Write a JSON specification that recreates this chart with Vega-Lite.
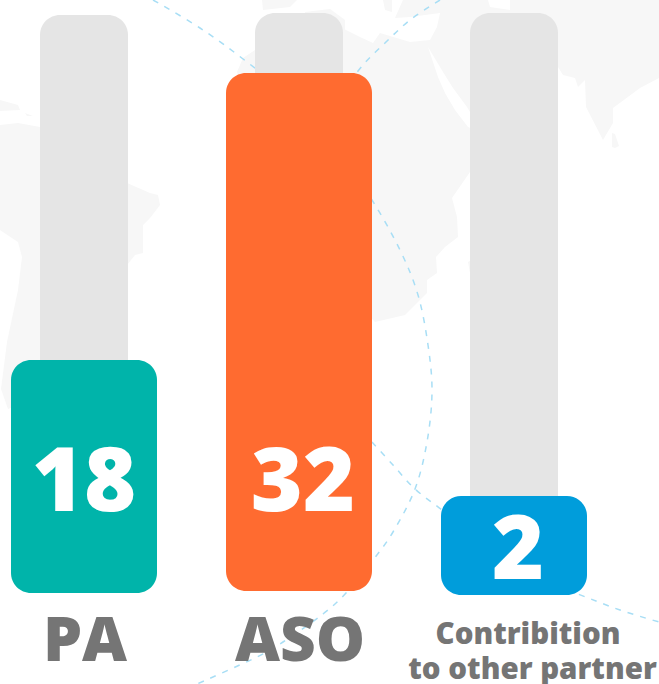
{"$schema":"https://vega.github.io/schema/vega-lite/v6.json","width":659,"height":684,"padding":0,"autosize":{"type":"none"},"background":"#ffffff","view":{"stroke":null},
"datasets":{
"bars":[
{"category":"PA","value":18,"track_top":15,"bar_top":360,"bar_base":593,"value_base":511,"label_base":661},
{"category":"ASO","value":32,"track_top":13,"bar_top":73,"bar_base":591,"value_base":511,"label_base":661},
{"category":"Contribution","value":2,"track_top":13,"bar_top":496,"bar_base":595,"value_base":579,"label_base":644}
],
"arcs":[
{"arc":"A","seq":1,"x":153,"y":0},{"arc":"A","seq":2,"x":200,"y":28},{"arc":"A","seq":3,"x":247,"y":62},{"arc":"A","seq":4,"x":300,"y":105},{"arc":"A","seq":5,"x":340,"y":155},{"arc":"A","seq":6,"x":372,"y":200},{"arc":"A","seq":7,"x":400,"y":250},{"arc":"A","seq":8,"x":418,"y":295},{"arc":"A","seq":9,"x":428,"y":345},{"arc":"A","seq":10,"x":432,"y":392},{"arc":"A","seq":11,"x":427,"y":442},{"arc":"A","seq":12,"x":415,"y":489},{"arc":"A","seq":13,"x":393,"y":532},{"arc":"A","seq":14,"x":373,"y":560},{"arc":"A","seq":15,"x":347,"y":592},{"arc":"A","seq":16,"x":323,"y":614},{"arc":"A","seq":17,"x":283,"y":642},{"arc":"A","seq":18,"x":257,"y":657},{"arc":"A","seq":19,"x":197,"y":684},
{"arc":"B","seq":1,"x":440,"y":0},{"arc":"B","seq":2,"x":410,"y":20},{"arc":"B","seq":3,"x":385,"y":43},{"arc":"B","seq":4,"x":363,"y":65},{"arc":"B","seq":5,"x":340,"y":95},
{"arc":"C","seq":1,"x":372,"y":442},{"arc":"C","seq":2,"x":393,"y":465},{"arc":"C","seq":3,"x":415,"y":489},{"arc":"C","seq":4,"x":442,"y":510},{"arc":"C","seq":5,"x":480,"y":540},{"arc":"C","seq":6,"x":530,"y":575},{"arc":"C","seq":7,"x":578,"y":594},{"arc":"C","seq":8,"x":620,"y":610},{"arc":"C","seq":9,"x":659,"y":622}
]},
"layer":[
{"data":{"values":{"type":"FeatureCollection","features":[
{"type":"Feature","properties":{"name":"Afro-Eurasia"},"geometry":{"type":"Polygon","coordinates":[[[27,45.75],[48.25,45.75],[48.75,44],[53.75,43.25],[53.75,45.75],[91,45.75],[91,26.25],[86.25,23.75],[79.5,18.75],[79.5,15],[77,10.75],[72.75,19],[72.5,25.75],[70.75,24],[70,26.25],[67,27],[65.75,29],[51.25,23.25],[43.75,17.75],[43,19],[39.5,23.75],[37,27.75],[33.25,34],[35.75,26.5],[37.5,22.5],[40,18.25],[43.25,14],[51.25,10.75],[43.75,2.75],[39.25,-3.75],[40.5,-8.5],[40.75,-13.5],[37.5,-16],[35.25,-18.5],[35.5,-22.5],[33,-24.25],[33,-27.5],[27.5,-33],[20,-34.75],[15,-29.25],[8.75,0.75],[-11.25,18.25],[-14.5,27.75],[-13,31.25],[-10,33.25],[-8.25,35.25],[11.75,38.75],[16.25,36.5],[19.5,35],[21.25,37.5],[28.75,35.25],[33.75,35.75],[35.5,39],[36.25,42.5],[28.75,41.5],[25,41.25],[27,45.75]]]}},
{"type":"Feature","properties":{"name":"South America"},"geometry":{"type":"Polygon","coordinates":[[[-73.75,14.5],[-69.25,15],[-63.75,14],[-42,0],[-36.25,-2.5],[-34.25,-3],[-33.75,-5.5],[-36.25,-8.75],[-38,-10.5],[-38,-17.5],[-40,-18],[-42,-20.5],[-48.75,-36.75],[-58.75,-49.25],[-66.25,-54.25],[-71.75,-56.5],[-73.5,-51.5],[-72,-39.75],[-69.25,-26.75],[-68.25,-18.5],[-69.25,-14.75],[-73.75,-11.75],[-73.75,14.5]]]}},
{"type":"Feature","properties":{"name":"Caribbean 1"},"geometry":{"type":"Polygon","coordinates":[[[-73.75,20.75],[-69.25,19.5],[-68.75,18.25],[-73.75,18],[-73.75,20.75]]]}},
{"type":"Feature","properties":{"name":"Caribbean 2"},"geometry":{"type":"Polygon","coordinates":[[[-67.5,17.5],[-65.5,16.75],[-67,16.75],[-67.5,17.5]]]}},
{"type":"Feature","properties":{"name":"Sri Lanka"},"geometry":{"type":"Polygon","coordinates":[[[79.25,12.5],[80,12.25],[81,9.25],[80,8.75],[79.25,9],[79.25,12.5]]]}},
{"type":"Feature","properties":{"name":"Madagascar"},"geometry":{"type":"Polygon","coordinates":[[[43.25,-19.75],[45,-18.75],[45,-23],[43.75,-22.5],[43.25,-19.75]]]}},
{"type":"Feature","properties":{"name":"Iberia"},"geometry":{"type":"Polygon","coordinates":[[[-8.25,45.75],[0.5,45.75],[-1.25,44],[-8,43.25],[-8.25,45.75]]]}},
{"type":"Feature","properties":{"name":"Italy"},"geometry":{"type":"Polygon","coordinates":[[[2.5,42.75],[8.75,43.5],[12.5,40.75],[12.5,38.25],[2.5,38.25],[2.5,42.75]]]}},
{"type":"Feature","properties":{"name":"Balkans"},"geometry":{"type":"Polygon","coordinates":[[[22,45.75],[24.25,45.75],[24.25,42.75],[22.5,43.25],[22,45.75]]]}}
]},"format":{"type":"json","property":"features"}},
"projection":{"type":"equirectangular","scale":229.183,"translate":[295,183]},
"mark":{"type":"geoshape","fill":"#f7f7f7","stroke":null},"encoding":{}},
{"data":{"name":"arcs"},"mark":{"type":"line","stroke":"#a8def5","strokeWidth":1.5,"strokeDash":[6,7],"interpolate":"cardinal"},
"encoding":{"x":{"field":"x","type":"quantitative","scale":{"domain":[0,659]},"axis":null},"y":{"field":"y","type":"quantitative","scale":{"domain":[684,0]},"axis":null},"detail":{"field":"arc"},"order":{"field":"seq"}}},
{"data":{"name":"bars"},"layer":[
{"mark":{"type":"bar","size":88,"fill":"#e5e5e5","cornerRadius":20},
"encoding":{"y":{"field":"track_top","type":"quantitative","scale":{"domain":[684,0]},"axis":null},"y2":{"field":"bar_base"}}},
{"mark":{"type":"bar","size":146,"cornerRadius":20},
"encoding":{"y":{"field":"bar_top","type":"quantitative","scale":{"domain":[684,0]},"axis":null},"y2":{"field":"bar_base"},"color":{"field":"category","type":"nominal","scale":{"domain":["PA","ASO","Contribution"],"range":["#00b4aa","#ff6b30","#009ddb"]},"legend":null}}},
{"transform":[{"filter":"datum.category === 'PA'"}],"mark":{"type":"text","font":"Open Sans","fontWeight":800,"fontSize":89,"fill":"#ffffff","baseline":"alphabetic","align":"center"},
"encoding":{"y":{"field":"value_base","type":"quantitative","scale":{"domain":[684,0]},"axis":null},"text":{"field":"value","type":"quantitative"}}},
{"transform":[{"filter":"datum.category !== 'PA'"}],"mark":{"type":"text","font":"Open Sans","fontWeight":800,"fontSize":89,"fill":"#ffffff","baseline":"alphabetic","align":"center","dx":4},
"encoding":{"y":{"field":"value_base","type":"quantitative","scale":{"domain":[684,0]},"axis":null},"text":{"field":"value","type":"quantitative"}}},
{"transform":[{"filter":"datum.category !== 'Contribution'"}],"mark":{"type":"text","font":"Open Sans","fontWeight":800,"fontSize":62,"fill":"#757575","baseline":"alphabetic","align":"center","dx":1},
"encoding":{"y":{"field":"label_base","type":"quantitative","scale":{"domain":[684,0]},"axis":null},"text":{"field":"category"}}},
{"transform":[{"filter":"datum.category === 'Contribution'"}],"mark":{"type":"text","font":"Open Sans","fontWeight":800,"fontSize":29.5,"fill":"#757575","baseline":"alphabetic","align":"center","dx":14},
"encoding":{"y":{"field":"label_base","type":"quantitative","scale":{"domain":[684,0]},"axis":null},"text":{"value":"Contribition"}}},
{"transform":[{"filter":"datum.category === 'Contribution'"}],"mark":{"type":"text","font":"Open Sans","fontWeight":800,"fontSize":29.5,"fill":"#757575","baseline":"alphabetic","align":"center","dx":18.5,"dy":35},
"encoding":{"y":{"field":"label_base","type":"quantitative","scale":{"domain":[684,0]},"axis":null},"text":{"value":"to other partner"}}}
],
"encoding":{"x":{"field":"category","type":"nominal","scale":{"type":"point","padding":0,"domain":["PA","ASO","Contribution"],"range":[84,514]},"axis":null}}}
],
"resolve":{"scale":{"x":"independent"}}}
